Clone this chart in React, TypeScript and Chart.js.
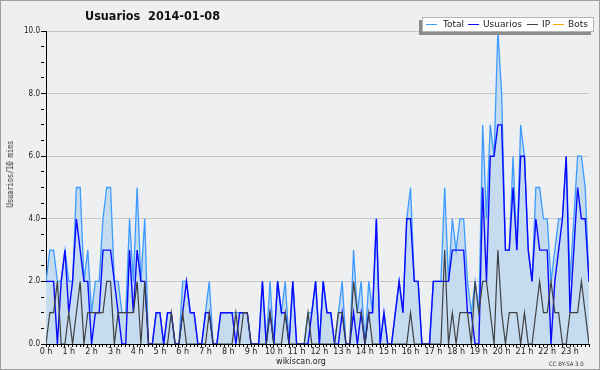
import React, { useEffect, useRef } from 'react';
import { Chart, registerables } from 'chart.js';

Chart.register(...registerables);

// one slot every 10 minutes, value = minutes since midnight
const slotsPerDay = 144;
const slots: number[] = Array.from({ length: slotsPerDay }, (_, i) => i * 10);

const total: number[] = [
  2, 3, 3, 2, 2, 3, 2, 2, 5, 5, 2, 3, 1, 2, 2, 4, 5, 5, 2, 2, 1, 1,
  4, 2, 5, 2, 4, 0, 0, 1, 1, 0, 1, 1, 0, 0, 2, 2, 1, 1, 0, 0, 1, 2, 0, 0, 1, 1,
  1, 1, 1, 1, 1, 1, 0, 0, 0, 2, 0, 2, 0, 2, 1, 2, 0, 2, 0, 0, 0, 1, 1, 2,
  0, 2, 1, 1, 0, 1, 2, 0, 0, 3, 1, 2, 0, 2, 1, 4, 0, 1, 0, 0, 1, 2, 1, 4,
  5, 2, 2, 0, 0, 0, 2, 2, 2, 5, 2, 4, 3, 4, 4, 2, 1, 2, 1, 7, 4, 7, 6,
  10, 8, 3, 3, 6, 3, 7, 6, 3, 2, 5, 5, 4, 4, 2, 3, 4, 4, 6, 2, 4, 6, 6, 5, 2,
];

const usuarios: number[] = [
  2, 2, 2, 0, 2, 3, 1, 2, 4, 3, 2, 2, 0, 1, 1, 3, 3, 3, 2, 1, 0, 0,
  3, 1, 3, 2, 2, 0, 0, 1, 1, 0, 1, 1, 0, 0, 1, 2, 1, 1, 0, 0, 1, 1, 0, 0, 1, 1,
  1, 1, 0, 1, 1, 1, 0, 0, 0, 2, 0, 1, 0, 2, 1, 1, 0, 2, 0, 0, 0, 0, 1, 2,
  0, 2, 1, 1, 0, 0, 1, 0, 0, 1, 0, 1, 0, 1, 1, 4, 0, 1, 0, 0, 1, 2, 1, 4,
  4, 2, 2, 0, 0, 0, 2, 2, 2, 2, 2, 3, 3, 3, 3, 1, 1, 0, 0, 5, 2, 6, 6,
  7, 7, 3, 3, 5, 3, 6, 6, 3, 2, 4, 3, 3, 3, 0, 2, 3, 4, 6, 1, 3, 5, 4, 4, 2,
];

const ip: number[] = [
  0, 1, 1, 2, 0, 0, 1, 0, 1, 2, 0, 1, 1, 1, 1, 1, 2, 2, 0, 1, 1, 1,
  1, 1, 2, 0, 2, 0, 0, 0, 0, 0, 0, 1, 0, 0, 1, 0, 0, 0, 0, 0, 0, 1, 0, 0, 0, 0,
  0, 0, 1, 0, 1, 1, 0, 0, 0, 0, 0, 1, 0, 0, 0, 1, 0, 0, 0, 0, 0, 1, 0, 0,
  0, 0, 0, 0, 0, 1, 1, 0, 0, 2, 1, 1, 0, 1, 0, 0, 0, 0, 0, 0, 0, 0, 0, 0,
  1, 0, 0, 0, 0, 0, 0, 0, 0, 3, 0, 1, 0, 1, 1, 1, 0, 2, 1, 2, 2, 1, 0,
  3, 1, 0, 1, 1, 1, 0, 1, 0, 0, 1, 2, 1, 1, 2, 1, 1, 0, 0, 1, 1, 1, 2, 1, 0,
];

const bots: number[] = [];

const yTickMajor = 2;
const titleText = 'Usuarios  2014-01-08';
const yAxisTitle = 'Usuarios/10 mins';
const seriesNames = ['Total', 'Usuarios', 'IP', 'Bots'];
const seriesColors = ['#3d9bff', '#0a0aff', '#404040', '#ffa500'];

export default function App() {
  const canvasRef = useRef<HTMLCanvasElement | null>(null);

  useEffect(() => {
    const canvas = canvasRef.current;
    if (!canvas) return;
    const chart = new Chart(canvas, {
      type: 'line',
      data: {
        labels: slots,
        datasets: [
          {
            label: seriesNames[0],
            data: total,
            borderColor: seriesColors[0],
            backgroundColor: '#c5dcf0',
            fill: 'origin',
            borderWidth: 1.3,
            pointRadius: 0,
            tension: 0,
            order: 3,
          },
          {
            label: seriesNames[1],
            data: usuarios,
            borderColor: seriesColors[1],
            fill: false,
            borderWidth: 1.4,
            pointRadius: 0,
            tension: 0,
            order: 2,
          },
          {
            label: seriesNames[2],
            data: ip,
            borderColor: seriesColors[2],
            fill: false,
            borderWidth: 1.2,
            pointRadius: 0,
            tension: 0,
            order: 1,
          },
          {
            label: seriesNames[3],
            data: bots,
            borderColor: seriesColors[3],
            fill: false,
            borderWidth: 1.2,
            pointRadius: 0,
            tension: 0,
            order: 4,
          },
        ],
      },
      options: {
        responsive: false,
        animation: false,
        events: [],
        layout: { padding: { left: 0, right: 11, top: 31, bottom: 0 } },
        plugins: {
          legend: { display: false },
          title: { display: false },
          tooltip: { enabled: false },
        },
        scales: {
          x: {
            type: 'linear',
            min: 0,
            max: slots[slots.length - 1],
            afterFit: (s: any) => {
              s.height = 26;
            },
            border: { color: '#000', width: 1 },
            grid: {
              drawOnChartArea: false,
              drawTicks: true,
              tickLength: 3,
              tickColor: '#000',
            },
            ticks: {
              stepSize: 10,
              autoSkip: false,
              maxRotation: 0,
              minRotation: 0,
              maxTicksLimit: 400,
              padding: 0,
              color: '#222',
              font: { family: 'DejaVu Sans', size: 8 },
              callback: (v: any) => (Number(v) % 60 === 0 ? `${Number(v) / 60} h` : ''),
            },
          },
          y: {
            min: 0,
            max: 10,
            afterFit: (s: any) => {
              s.width = 46;
            },
            border: { color: '#000', width: 1 },
            grid: {
              color: (ctx: any) =>
                ctx.tick && ctx.tick.value > 0 && ctx.tick.value % yTickMajor === 0
                  ? '#c8c8c8'
                  : 'rgba(0,0,0,0)',
              lineWidth: 1,
              tickLength: 5,
              tickColor: '#000',
              tickBorderDash: (ctx: any) =>
                ctx.tick && ctx.tick.value % yTickMajor === 0 ? [] : [3, 20],
            },
            ticks: {
              stepSize: 0.5,
              autoSkip: false,
              maxTicksLimit: 40,
              padding: 1,
              color: '#222',
              font: { family: '"DejaVu Sans Condensed", "DejaVu Sans"', size: 8 },
              callback: (v: any) => (Number(v) % yTickMajor === 0 ? Number(v).toFixed(1) : ''),
            },
          },
        },
      },
    });
    return () => chart.destroy();
  }, []);

  const legendItems = [
    { sw: 426, tx: 443 },
    { sw: 468, tx: 483 },
    { sw: 527, tx: 542 },
    { sw: 553, tx: 568 },
  ];

  return (
    <div
      style={{
        position: 'fixed',
        left: 0,
        top: 0,
        width: 600,
        height: 370,
        background: '#eeeff1',
        overflow: 'hidden',
        fontFamily: '"DejaVu Sans", sans-serif',
      }}
    >
      <canvas
        ref={canvasRef}
        width={600}
        height={370}
        style={{ position: 'absolute', left: 0, top: 0, width: 600, height: 370 }}
      />
      <div
        style={{
          position: 'absolute',
          left: 85,
          top: 8,
          fontFamily: '"DejaVu Sans Condensed", "DejaVu Sans", sans-serif',
          fontStretch: 'condensed',
          fontWeight: 'bold',
          fontSize: 12.5,
          lineHeight: '16px',
          whiteSpace: 'pre',
          color: '#111',
        }}
      >
        {titleText}
      </div>
      <div
        style={{
          position: 'absolute',
          left: 422,
          top: 17,
          width: 170,
          height: 13,
          background: '#fff',
          border: '1px solid #b4b4b4',
          boxShadow: '-3px 3px 0 #8c8c8c',
        }}
      />
      {legendItems.map((it, i) => (
        <React.Fragment key={seriesNames[i]}>
          <div
            style={{
              position: 'absolute',
              left: it.sw,
              top: 23.5,
              width: 11,
              height: 1.5,
              background: seriesColors[i],
            }}
          />
          <div
            style={{
              position: 'absolute',
              left: it.tx,
              top: 18,
              fontSize: 9,
              lineHeight: '13px',
              color: '#222',
              whiteSpace: 'pre',
            }}
          >
            {seriesNames[i]}
          </div>
        </React.Fragment>
      ))}
      <div
        style={{
          position: 'absolute',
          left: 9.5,
          top: 173.5,
          transform: 'translate(-50%, -50%) rotate(-90deg) scaleX(0.77)',
          fontFamily: '"DejaVu Sans Mono", monospace',
          fontSize: 9,
          lineHeight: '10px',
          whiteSpace: 'pre',
          color: '#222',
        }}
      >
        {yAxisTitle}
      </div>
      <div
        style={{
          position: 'absolute',
          left: 301,
          top: 357,
          transform: 'translateX(-50%)',
          fontSize: 8,
          lineHeight: '10px',
          whiteSpace: 'pre',
          color: '#222',
        }}
      >
        wikiscan.org
      </div>
      <div
        style={{
          position: 'absolute',
          left: 549,
          top: 360,
          fontFamily: '"DejaVu Sans Condensed", "DejaVu Sans", sans-serif',
          fontStretch: 'condensed',
          fontSize: 6,
          lineHeight: '8px',
          whiteSpace: 'pre',
          color: '#333',
        }}
      >
        CC BY-SA 3.0
      </div>
      <div
        style={{
          position: 'absolute',
          left: 0,
          top: 0,
          width: 600,
          height: 370,
          boxSizing: 'border-box',
          border: '1px solid #a0a0a0',
          pointerEvents: 'none',
        }}
      />
    </div>
  );
}
